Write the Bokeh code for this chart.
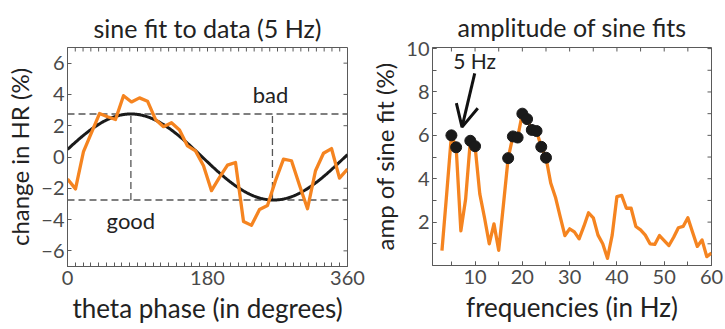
from bokeh.plotting import figure
from bokeh.layouts import row
from bokeh.models import FixedTicker, Range1d, Label, Arrow, OpenHead
from bokeh.embed import file_html
from bokeh.resources import INLINE
import numpy as np

# ---------------- data: left panel (5 Hz phase bins) ----------------
phase_deg = [0, 10.29, 20.57, 30.86, 41.14, 51.43, 61.71, 72.0, 82.29, 92.57,
             102.86, 113.14, 123.43, 133.71, 144.0, 154.29, 164.57, 174.86, 185.14, 195.43,
             205.71, 216.0, 226.29, 236.57, 246.86, 257.14, 267.43, 277.71, 288.0, 298.29,
             308.57, 318.86, 329.14, 339.43, 349.71, 360.0]
hr_change = [-1.41, -2.04, 0.35, 1.56, 2.78, 2.57, 2.40, 3.92, 3.52, 3.78,
             3.57, 2.40, 1.94, 2.19, 1.73, 0.71, 0.39, -0.56, -2.15, -1.30,
             -0.52, -0.35, -4.12, -4.37, -3.35, -3.10, -1.51, -0.14, -0.24, -1.80,
             -3.31, -0.88, 0.24, 0.54, -1.35, -0.77]

# sine fit parameters
fit_amp = 2.75
fit_peak_deg = 81.5
fit_trough_deg = 263.5
fit_period_deg = 367.0

# ---------------- data: right panel (amplitude per frequency) ----------------
freqs = list(range(3, 61))
amps = [0.69, 3.30, 6.00, 5.45, 1.60, 3.05, 5.75, 5.50, 3.30, 2.20,
        1.00, 1.92, 0.70, 2.80, 4.95, 5.95, 5.90, 7.00, 6.75, 6.25,
        6.20, 5.47, 4.97, 3.80, 3.15, 2.25, 1.38, 1.69, 1.55, 1.23,
        1.80, 2.43, 2.20, 1.40, 1.00, 0.33, 1.40, 3.18, 3.23, 2.64,
        2.64, 1.80, 1.64, 1.40, 1.00, 0.97, 1.38, 1.15, 0.92, 1.30,
        1.74, 1.80, 2.20, 1.53, 0.88, 1.18, 0.41, 0.57]
sig_freqs = [5, 6, 9, 10, 17, 18, 19, 20, 21, 22, 23, 24, 25]
sig_amps = [amps[freqs.index(f)] for f in sig_freqs]

left_xticks = [0, 180, 360]
left_xminor = list(range(0, 361, 10))
left_yticks = [-6, -4, -2, 0, 2, 4, 6]
right_xticks = [10, 20, 30, 40, 50, 60]
right_xminor = list(range(5, 61, 5))
right_yticks = [2, 4, 6, 8, 10]
right_yminor = list(range(1, 11))

ORANGE = "#F58420"
DARK = "#1a1a1a"
AX = "#5a5a5a"
FONT = "Lato"
TICK_PX = 4


def style_axis(ax, label_size):
    ax.axis_line_color = AX
    ax.axis_line_width = 1
    ax.major_tick_in = TICK_PX
    ax.major_tick_out = 0
    ax.minor_tick_in = TICK_PX
    ax.minor_tick_out = 0
    ax.major_tick_line_color = AX
    ax.minor_tick_line_color = AX
    ax.major_label_text_font = FONT
    ax.major_label_text_color = "#4a4a4a"
    ax.major_label_text_font_size = "20px"
    ax.axis_label_text_font = FONT
    ax.axis_label_text_font_style = "normal"
    ax.axis_label_text_color = "#222222"
    ax.axis_label_text_font_size = label_size


def make_fig(fw, fh, xr, yr, bl, br, bt, title):
    p = figure(frame_width=fw, frame_height=fh, x_range=xr, y_range=yr,
               output_backend="svg", toolbar_location=None,
               min_border_left=bl, min_border_right=br,
               min_border_top=bt, min_border_bottom=50)
    p.title.text = title
    p.title.align = "center"
    p.title.text_font = FONT
    p.title.text_font_size = "25px"
    p.title.text_font_style = "normal"
    p.title.text_color = "#222222"
    p.title.standoff = 10
    p.xgrid.visible = False
    p.ygrid.visible = False
    p.outline_line_color = AX
    p.background_fill_color = "white"
    p.border_fill_color = "white"
    p.xaxis.major_label_standoff = 4
    p.xaxis.axis_label_standoff = 4
    p.yaxis.major_label_standoff = 3
    p.yaxis.axis_label_standoff = 4
    return p


def mirror_ticks(p, fw, fh, xr, yr, xt, yt):
    # inward ticks on the top and right edges (box style axes)
    dy = (yr[1] - yr[0]) * TICK_PX / fh
    dx = (xr[1] - xr[0]) * TICK_PX / fw
    p.segment(x0=xt, y0=[yr[1]] * len(xt), x1=xt, y1=[yr[1] - dy] * len(xt),
              line_color=AX, line_width=1)
    p.segment(x0=[xr[1]] * len(yt), y0=yt, x1=[xr[1] - dx] * len(yt), y1=yt,
              line_color=AX, line_width=1)


# ---------------- left figure ----------------
lfw, lfh = 280, 219
lx, ly = (0, 360), (-7, 7)
p1 = make_fig(lfw, lfh, Range1d(*lx), Range1d(*ly), 67, 19, 45, "sine fit to data (5 Hz)")
p1.xaxis.ticker = FixedTicker(ticks=left_xticks, minor_ticks=left_xminor)
p1.yaxis.ticker = FixedTicker(ticks=left_yticks, minor_ticks=[])
p1.yaxis.major_label_overrides = {v: str(v).replace("-", "\u2212") for v in left_yticks}
p1.xaxis.axis_label = "theta phase (in degrees)"
p1.yaxis.axis_label = "change in HR (%)"
style_axis(p1.xaxis[0], "26px")
style_axis(p1.yaxis[0], "24px")
mirror_ticks(p1, lfw, lfh, lx, ly, left_xminor, left_yticks)

dash_kw = dict(line_color="#555555", line_width=1.3, line_dash="7 4")
p1.line([0, 360], [fit_amp, fit_amp], **dash_kw)
p1.line([0, 360], [-fit_amp, -fit_amp], **dash_kw)
p1.line([fit_peak_deg, fit_peak_deg], [-fit_amp, fit_amp], **dash_kw)
p1.line([fit_trough_deg, fit_trough_deg], [-fit_amp, fit_amp], **dash_kw)

fit_x = np.linspace(0, 360, 361)
fit_y = fit_amp * np.cos(2 * np.pi * (fit_x - fit_peak_deg) / fit_period_deg)
p1.line(fit_x, fit_y, line_color=DARK, line_width=3)
p1.line(phase_deg, hr_change, line_color=ORANGE, line_width=3.3, line_join="round")

lab_kw = dict(text_font=FONT, text_color="#222222",
              text_align="center", text_baseline="middle")
p1.add_layout(Label(x=261, y=4.0, text="bad", text_font_size="22px", **lab_kw))
p1.add_layout(Label(x=81.5, y=-4.05, text="good", text_font_size="22px", **lab_kw))

# ---------------- right figure ----------------
rfw, rfh = 279, 218
rx, ry = (1, 60), (0, 10.05)
p2 = make_fig(rfw, rfh, Range1d(*rx), Range1d(*ry), 66, 12, 47, "amplitude of sine fits")
p2.xaxis.ticker = FixedTicker(ticks=right_xticks, minor_ticks=right_xminor)
p2.yaxis.ticker = FixedTicker(ticks=right_yticks, minor_ticks=right_yminor)
p2.xaxis.axis_label = "frequencies (in Hz)"
p2.yaxis.axis_label = "amp of sine fit (%)"
style_axis(p2.xaxis[0], "26px")
style_axis(p2.yaxis[0], "24px")
p2.title.standoff = 12
mirror_ticks(p2, rfw, rfh, rx, ry, right_xminor, right_yminor)

p2.line(freqs, amps, line_color=ORANGE, line_width=3.3, line_join="round")
p2.scatter(sig_freqs, sig_amps, size=11, fill_color=DARK, line_color=DARK)

p2.add_layout(Label(x=9.9, y=9.45, text="5 Hz", text_font_size="21px", **lab_kw))
p2.add_layout(Arrow(x_start=9.93, y_start=8.86, x_end=7.24, y_end=6.38,
                    line_color="#111111", line_width=3,
                    end=OpenHead(size=22, line_width=3, line_color="#111111")))

layout = row(p1, p2)
open("out.html", "w").write(file_html(layout, INLINE))
